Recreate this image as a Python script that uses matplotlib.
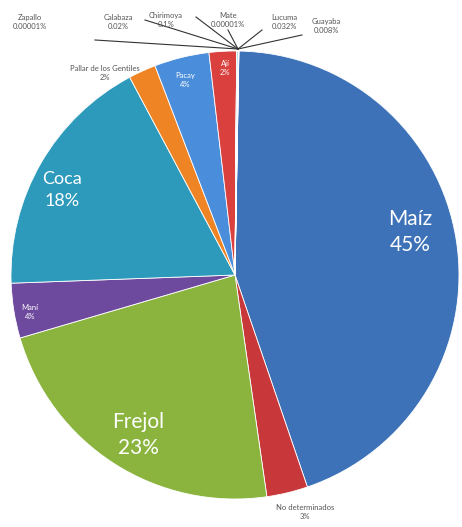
import matplotlib.pyplot as plt

plt.rcParams['font.family'] = ['Lato', 'DejaVu Sans']

# Crop shares (%), clockwise from 12 o'clock
cultivos = ['Maíz', 'No determinados', 'Frejol', 'Maní', 'Coca',
            'Pallar de los Gentiles', 'Pacay', 'Ají',
            'Zapallo', 'Calabaza', 'Chirimoya', 'Mate', 'Lucuma', 'Guayaba']
porcentajes = [45, 3, 23, 4, 18, 2, 4, 2,
               0.00001, 0.02, 0.1, 0.00001, 0.032, 0.008]
etiquetas = ['45%', '3%', '23%', '4%', '18%', '2%', '4%', '2%',
             '0.00001%', '0.02%', '0.1%', '0.00001%', '0.032%', '0.008%']
colores = ['#3d72b8', '#c8383a', '#8bb43e', '#6e4a9e', '#2d9abb',
           '#ef8424', '#4a8ddb', '#d9403e',
           '#9bbb59', '#f79646', '#4bacc6', '#8064a2', '#c0504d', '#1f497d']

fig = plt.figure(figsize=(4.62, 5.27), dpi=100)
ax = fig.add_axes([0, 0, 1, 1])

cx, cy, r = 235, 252, 224
ax.pie(porcentajes, colors=colores, startangle=89, counterclock=False,
       center=(cx, cy), radius=r,
       wedgeprops=dict(edgecolor='white', linewidth=0.6))
ax.set_xlim(0, 462)
ax.set_ylim(0, 527)
ax.axis('off')

# labels inside the big wedges
ax.text(410, 295, 'Maíz\n45%', color='white', fontsize=15, ha='center',
        va='center', linespacing=1.4)
ax.text(138, 92, 'Frejol\n23%', color='white', fontsize=15, ha='center',
        va='center', linespacing=1.4)
ax.text(62, 337, 'Coca\n18%', color='white', fontsize=13, ha='center',
        va='center', linespacing=1.4)
ax.text(30, 215, 'Maní\n4%', color='white', fontsize=5.5, ha='center',
        va='center')
ax.text(185, 447, 'Pacay\n4%', color='white', fontsize=5.5, ha='center',
        va='center')
ax.text(225, 459, 'Ají\n2%', color='white', fontsize=5.5, ha='center',
        va='center')

# labels outside the wedge
ax.text(105, 454, 'Pallar de los Gentiles\n2%', color='#555555',
        fontsize=5.5, ha='center', va='center')
ax.text(305, 15, 'No determinados\n3%', color='#555555', fontsize=5.5,
        ha='center', va='center')

# tiny wedges at the top with leader lines
punta = (238, 478)
pequenos = [
    (8, (30, 505), (95, 487)),
    (9, (118, 505), (145, 507)),
    (10, (166, 507), (196, 510)),
    (11, (228, 507), (228, 497)),
    (12, (284, 505), (262, 497)),
    (13, (326, 501), (302, 492)),
]
for i, pos, extremo in pequenos:
    ax.text(pos[0], pos[1], cultivos[i] + '\n' + etiquetas[i],
            color='#555555', fontsize=5.5, ha='center', va='center')
    ax.plot([extremo[0], punta[0]], [extremo[1], punta[1]],
            color='#333333', linewidth=0.8)

fig.savefig('out.png', dpi=100)
